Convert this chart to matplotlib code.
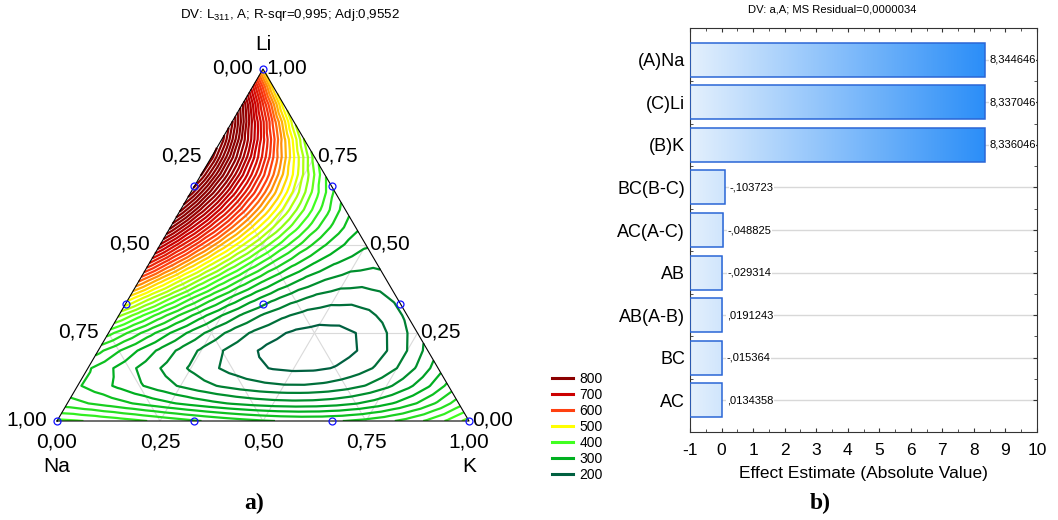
import numpy as np
import matplotlib
matplotlib.use("Agg")
import matplotlib.pyplot as plt
import matplotlib.tri as mtri
from matplotlib.colors import LinearSegmentedColormap, Normalize
from matplotlib.lines import Line2D

plt.rcParams["font.family"] = ["Liberation Sans", "DejaVu Sans"]
plt.rcParams["mathtext.default"] = "regular"

# ---- dados: ensaio de misturas (Na, K, Li) e resposta L311 ----
# pontos do reticulado {3,3} (marcados no gráfico)
design_na = [1, 0, 0, 2/3, 1/3, 2/3, 1/3, 0, 0, 1/3]
design_k = [0, 1, 0, 1/3, 2/3, 0, 0, 2/3, 1/3, 1/3]
design_li = [0, 0, 1, 0, 0, 1/3, 2/3, 1/3, 2/3, 1/3]
design_l311 = [400, 420, 520, 340, 355, 480, 900, 265, 330, 192]
# pontos axiais de verificação (entram no ajuste)
check_na = [2/3, 1/6, 1/6]
check_k = [1/6, 2/3, 1/6]
check_li = [1/6, 1/6, 2/3]
check_l311 = [320, 215, 680]

contour_levels = list(range(200, 1001, 20))
legend_values = [800, 700, 600, 500, 400, 300, 200]
legend_colors = ["#8b0000", "#cc0000", "#ff4010", "#ffff00", "#40ff20", "#00b020", "#006040"]
tern_ticks = ["0,00", "0,25", "0,50", "0,75", "1,00"]

# ---- dados: gráfico de Pareto ----
effect_names = ["(A)Na", "(C)Li", "(B)K", "BC(B-C)", "AC(A-C)", "AB", "AB(A-B)", "BC", "AC"]
effect_values = [8.344646, 8.337046, 8.336046, -0.103723, -0.048825, -0.029314,
                 0.0191243, -0.015364, 0.0134358]


def cubic_terms(a, b, c):
    a, b, c = np.asarray(a, float), np.asarray(b, float), np.asarray(c, float)
    return np.column_stack([a, b, c, a*b, a*c, b*c, a*b*(a - b), a*c*(a - c), b*c*(b - c), a*b*c])


def to_xy(k, li):
    return np.asarray(k) + 0.5*np.asarray(li), np.asarray(li)*np.sqrt(3)/2


def fmt_effect(v):
    s = f"{v}".replace(".", ",")
    return s.replace("-0,", "-,") if s.startswith("-0,") else (s[1:] if s.startswith("0,") else s)


fig = plt.figure(figsize=(10.58, 5.2), dpi=100)
W, H = 1058, 520

# ================= a) ternário =================
ax = fig.add_axes([57/W, 1 - 421/H, 412/W, 352/H])
ax.set_xlim(0, 1)
ax.set_ylim(0, np.sqrt(3)/2)
ax.axis("off")

X = cubic_terms(design_na + check_na, design_k + check_k, design_li + check_li)
coef, *_ = np.linalg.lstsq(X, np.array(design_l311 + check_l311, float), rcond=None)

n = 20
pts = [(i/n, j/n) for i in range(n + 1) for j in range(n + 1 - i)]
gk = np.array([p[0] for p in pts])
gli = np.array([p[1] for p in pts])
gna = 1 - gk - gli
gx, gy = to_xy(gk, gli)
z = cubic_terms(gna, gk, gli) @ coef
triang = mtri.Triangulation(gx, gy)

# grade
for f in [0.25, 0.5, 0.75]:
    for p, q in [((f, 0, 1-f), (f, 1-f, 0)), ((0, f, 1-f), (1-f, f, 0)), ((0, 1-f, f), (1-f, 0, f))]:
        x0, y0 = to_xy(p[1], p[2])
        x1, y1 = to_xy(q[1], q[2])
        ax.plot([x0, x1], [y0, y1], color="#dadada", lw=0.8, zorder=1)

cmap = LinearSegmentedColormap.from_list("l311", list(zip(np.linspace(0, 1, 7), legend_colors[::-1])))
ax.tricontour(triang, z, levels=contour_levels, cmap=cmap, norm=Normalize(200, 800),
              linewidths=1.6, zorder=2)

ax.plot([0, 1, 0.5, 0], [0, 0, np.sqrt(3)/2, 0], color="black", lw=0.8, zorder=3, clip_on=False)

dx, dy = to_xy(design_k, design_li)
ax.plot(dx, dy, "o", mfc="none", mec="#1010ff", ms=5, mew=0.9, zorder=4, clip_on=False)

fs = 15
for i, lab in enumerate(tern_ticks):
    f = i/4
    # Na (lado esquerdo)
    x, y = to_xy(0, 1 - f)
    ax.annotate(lab, (x, y), xytext=(-10, 1), textcoords="offset pixels", ha="right", va="center", fontsize=fs)
    # Li (lado direito)
    x, y = to_xy(1 - f, f)
    ax.annotate(lab, (x, y), xytext=(3, 1), textcoords="offset pixels", ha="left", va="center", fontsize=fs)
    # K (base)
    x, y = to_xy(f, 0)
    ax.annotate(lab, (x, y), xytext=(0, -21), textcoords="offset pixels", ha="center", va="center", fontsize=fs)

ax.annotate("Li", to_xy(0, 1), xytext=(0, 24), textcoords="offset pixels", ha="center", va="center", fontsize=fs)
ax.annotate("Na", to_xy(0, 0), xytext=(0, -46), textcoords="offset pixels", ha="center", va="center", fontsize=fs)
ax.annotate("K", to_xy(1, 0), xytext=(0, -46), textcoords="offset pixels", ha="center", va="center", fontsize=fs)

fig.text(290/W, 1 - 15/H, "DV: L$_{311}$, A; R-sqr=0,995; Adj:0,9552", ha="center", va="center", fontsize=9.6)
fig.text(254/W, 1 - 503/H, "a)", ha="center", va="center", fontsize=17, fontweight="bold",
         family="Liberation Serif")

handles = [Line2D([], [], color=c, lw=2.2) for c in legend_colors]
fig.legend(handles, [str(v) for v in legend_values], loc="upper left",
           bbox_to_anchor=(545/W, 1 - 365/H), frameon=False, fontsize=10,
           handlelength=1.5, handletextpad=0.5, labelspacing=0.14, borderpad=0)

# ================= b) Pareto =================
bx = fig.add_axes([690/W, 1 - 432/H, 347/W, 404/H])
ypos = np.arange(len(effect_names))
abs_vals = np.abs(effect_values)
xmin = -1

for yv in ypos:
    bx.axhline(yv, color="#d8d8d8", lw=1, zorder=0)

bars = bx.barh(ypos, abs_vals - xmin, left=xmin, height=0.8, color="none",
               edgecolor="#2a66d6", lw=1.1, zorder=3)
grad_cmap = LinearSegmentedColormap.from_list("grad", ["#e4f0fd", "#2b8ef8"])
grad = np.linspace(0, 1, 256).reshape(1, -1)
for b, v in zip(bars, abs_vals):
    im = bx.imshow(grad, extent=[xmin, abs_vals.max(), b.get_y(), b.get_y() + b.get_height()],
                   cmap=grad_cmap, aspect="auto", zorder=2, origin="lower")
    im.set_clip_path(b)

for yv, v, a in zip(ypos, effect_values, abs_vals):
    bx.text(a + 0.15, yv, fmt_effect(v), fontsize=8, va="center", ha="left", zorder=4,
            bbox=dict(boxstyle="square,pad=0.05", fc="white", ec="none"))

bx.set_xlim(-1, 10)
bx.set_ylim(len(effect_names) - 0.25, -0.75)
bx.set_yticks(ypos)
bx.set_yticklabels(effect_names, fontsize=13)
bx.set_xticks(range(-1, 11))
bx.set_xticklabels([str(t) for t in range(-1, 11)], fontsize=12.5)
bx.set_xticks(np.arange(-1, 10.01, 0.5), minor=True)
bx.set_yticks(ypos[:-1] + 0.5, minor=True)
bx.tick_params(which="both", direction="in", top=True, right=True, color="#333333")
bx.tick_params(which="major", length=3)
bx.tick_params(which="minor", length=2)
bx.tick_params(axis="x", pad=8)
for s in bx.spines.values():
    s.set_color("#333333")
bx.set_xlabel("Effect Estimate (Absolute Value)", fontsize=12.5, labelpad=6)

fig.text(832/W, 1 - 10/H, "DV: a,A; MS Residual=0,0000034", ha="center", va="center", fontsize=8.1)
fig.text(820/W, 1 - 503/H, "b)", ha="center", va="center", fontsize=17, fontweight="bold",
         family="Liberation Serif")

fig.savefig("out.png", dpi=100)
